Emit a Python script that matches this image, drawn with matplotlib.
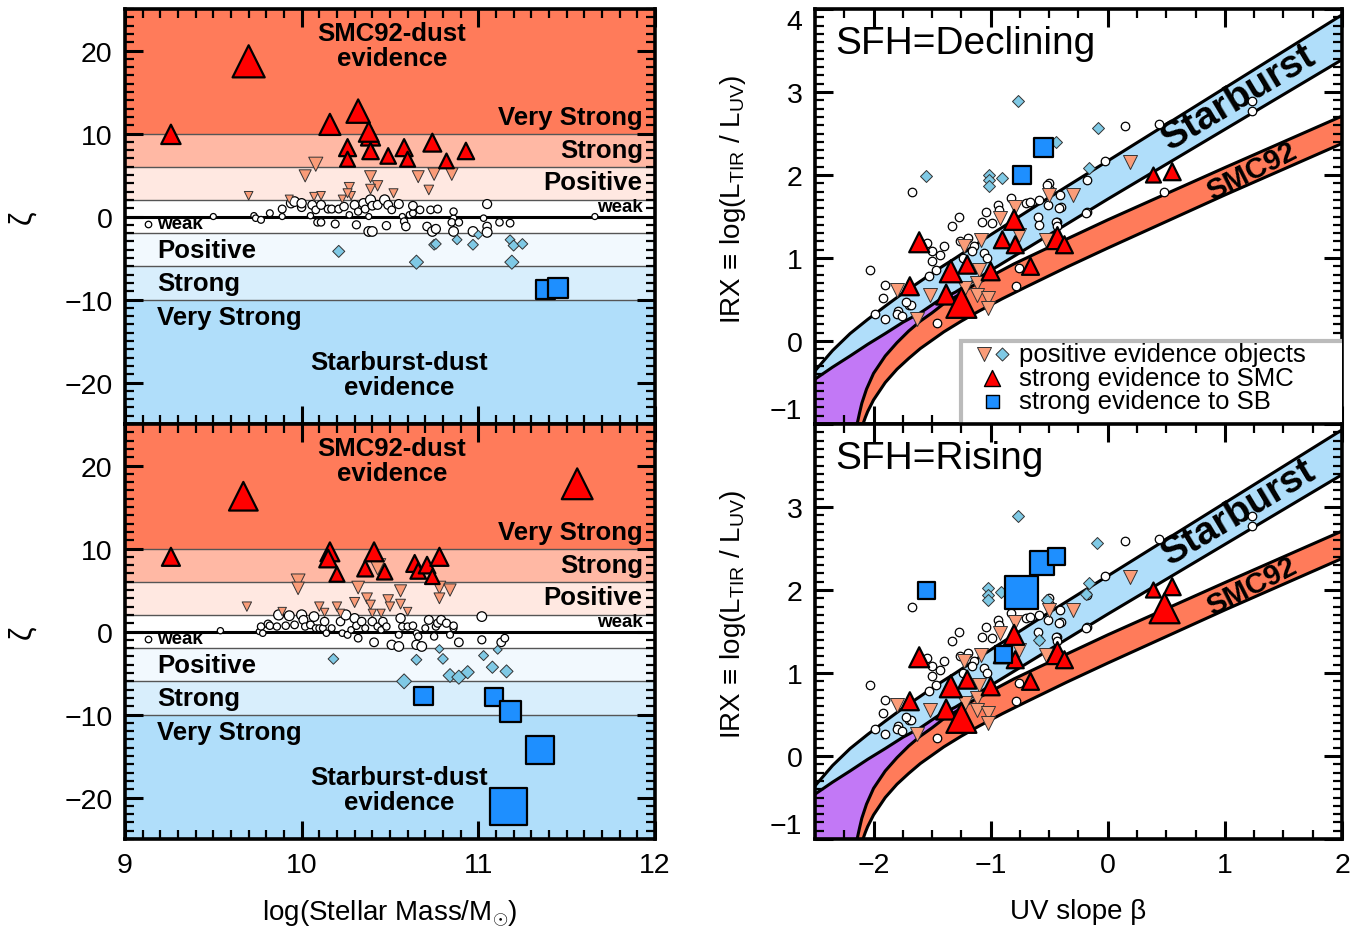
import numpy as np
import matplotlib.pyplot as plt
from matplotlib.patches import Polygon, Rectangle
from matplotlib.ticker import MultipleLocator

plt.rcParams['font.family'] = ['Liberation Sans', 'DejaVu Sans']
plt.rcParams['mathtext.fontset'] = 'custom'
plt.rcParams['mathtext.rm'] = 'Liberation Sans'
plt.rcParams['mathtext.it'] = 'Liberation Sans:italic'
plt.rcParams['mathtext.bf'] = 'Liberation Sans:bold'

# ---------------- zeta vs stellar mass : SFH declining ----------------
dec_weak_mass = [9.50, 9.73, 9.74, 9.77, 9.82, 9.89, 9.89, 9.94, 9.96, 10.00, 10.00, 10.05, 10.06,
                 10.08, 10.11, 10.09, 10.11, 10.15, 10.17, 10.19, 10.21, 10.24, 10.27, 10.30, 10.31,
                 10.32, 10.35, 10.36, 10.38, 10.39, 10.40, 10.43, 10.38, 10.40, 10.47, 10.48, 10.49,
                 10.51, 10.55, 10.57, 10.58, 10.59, 10.61, 10.63, 10.63, 10.67, 10.71, 10.73, 10.74,
                 10.76, 10.77, 10.86, 10.86, 10.85, 10.89, 10.86, 10.97, 11.03, 11.05, 11.05, 11.05,
                 11.12, 11.18, 11.66]
dec_weak_zeta = [0.0, 0.1, -0.2, -0.4, 0.4, 0.9, 0.0, 1.6, 1.8, 1.1, 1.6, 0.1, 1.4,
                 0.8, 1.4, -0.7, -0.7, 0.9, 0.9, -0.9, 0.9, 1.2, 0.2, 1.4, -1.0,
                 0.6, 1.6, 0.9, 0.0, 2.0, 1.3, 1.4, -1.8, -1.8, 2.0, -1.1, 1.4,
                 0.8, 1.5, 0.0, -0.6, -1.2, 0.2, 0.4, 1.3, 0.8, -1.2, 0.8, -1.8,
                 -1.5, 0.9, -0.2, 0.6, -0.7, -0.7, -1.8, -1.8, -0.2, -1.2, -1.9, 1.5,
                 -0.7, -0.8, 0.0]
dec_possmc_mass = [10.08, 10.02, 10.39, 10.43, 10.27, 10.28, 10.39, 10.66, 10.75, 10.85, 10.72,
                   9.70, 9.93, 10.07, 10.11, 10.23, 10.52, 10.26]
dec_possmc_zeta = [6.3, 4.9, 4.8, 3.7, 3.5, 2.5, 3.3, 4.8, 5.1, 5.1, 3.2,
                   2.5, 2.1, 2.4, 2.5, 2.1, 2.8, 2.8]
dec_possb_mass = [10.21, 10.65, 10.75, 10.76, 10.88, 10.97, 11.00, 11.18, 11.20, 11.25, 11.19]
dec_possb_zeta = [-4.2, -5.5, -3.4, -3.3, -2.8, -3.4, -2.2, -2.8, -3.5, -3.3, -5.5]
dec_smc_mass = [9.70, 9.26, 10.16, 10.32, 10.39, 10.38, 10.26, 10.26, 10.39, 10.49, 10.58,
                10.60, 10.74, 10.82, 10.93]
dec_smc_zeta = [18.7, 9.9, 11.1, 12.7, 9.7, 10.2, 8.3, 6.9, 7.9, 7.3, 8.3,
                6.9, 8.9, 6.7, 7.9]
dec_sb_mass = [11.38, 11.45]
dec_sb_zeta = [-8.8, -8.6]

# ---------------- zeta vs stellar mass : SFH rising ----------------
ris_weak_mass = [9.54, 9.76, 9.77, 9.78, 9.81, 9.82, 9.86, 9.87, 9.93, 9.91, 9.96, 10.00, 10.01,
                 10.02, 10.05, 10.07, 10.08, 10.10, 10.12, 10.13, 10.14, 10.17, 10.22, 10.23, 10.25,
                 10.26, 10.28, 10.30, 10.31, 10.32, 10.34, 10.36, 10.40, 10.41, 10.43, 10.45, 10.46,
                 10.48, 10.51, 10.55, 10.55, 10.56, 10.57, 10.60, 10.63, 10.65, 10.66, 10.65, 10.68,
                 10.70, 10.72, 10.75, 10.76, 10.77, 10.79, 10.82, 10.84, 10.86, 10.86, 10.89, 11.02,
                 11.02, 11.13, 11.15]
ris_weak_zeta = [0.1, 0.0, 0.6, -0.2, 0.9, 0.7, 0.6, 2.0, 1.9, 0.7, 0.8, 2.0, 1.4,
                 0.6, 0.8, 1.8, 0.4, 0.4, 0.4, 1.2, -0.2, 0.4, 1.2, -0.2, 2.0,
                 -0.4, 0.2, 1.6, 0.7, -0.8, 1.2, 0.4, 1.2, -1.3, 0.6, 0.2, 1.2,
                 0.6, -1.6, -1.8, -0.4, 1.6, 0.6, 0.6, 0.7, -0.2, -0.6, -1.6, -1.8,
                 0.4, 1.4, -0.6, 0.6, 1.0, 1.4, 1.0, -0.4, 0.4, 0.7, -1.3, 1.8,
                 -1.0, -1.3, -0.8]
ris_possmc_mass = [9.98, 9.98, 10.32, 10.56, 10.78, 10.84, 10.78, 10.37, 10.39, 10.49, 10.50,
                   10.56, 10.30, 9.69, 9.89, 10.10, 10.13, 10.20, 10.22, 10.40, 10.45, 10.60, 10.43]
ris_possmc_zeta = [6.1, 5.2, 5.3, 4.9, 5.3, 5.0, 4.0, 4.0, 3.2, 3.8, 3.0,
                   3.3, 3.5, 3.0, 2.4, 3.0, 2.3, 3.0, 2.2, 2.2, 2.2, 2.4, 7.8]
ris_possb_mass = [10.18, 10.65, 10.78, 10.80, 10.84, 10.89, 10.94, 10.58, 11.03, 11.08, 11.11, 11.16]
ris_possb_zeta = [-3.3, -3.4, -2.1, -3.3, -5.3, -5.5, -4.9, -6.0, -2.9, -4.3, -2.2, -4.8]
ris_smc_mass = [9.67, 11.56, 9.26, 10.16, 10.15, 10.20, 10.36, 10.41, 10.47, 10.64, 10.66,
                10.71, 10.74, 10.78]
ris_smc_zeta = [16.3, 17.8, 9.0, 9.6, 8.8, 6.9, 7.6, 9.6, 7.2, 8.2, 7.3,
                8.0, 6.6, 9.0]
ris_sb_mass = [10.69, 11.09, 11.18, 11.35, 11.17]
ris_sb_zeta = [-7.8, -7.9, -9.6, -14.3, -21.1]

# ---------------- IRX vs UV slope ----------------
irx_weak_beta = [0.15, 0.44, -0.02, -0.18, -0.18, 1.23, 1.23, 0.48, -0.41, -0.50, -0.49, -0.40,
                 -0.42, -0.43, -0.51, -1.67, -2.03, -1.90, -1.92, -1.99, -1.90, -1.79, -1.80,
                 -1.76, -1.70, -1.68, -1.72, -1.46, -1.54, -1.50, -1.43, -1.50, -1.47, -1.40,
                 -1.33, -1.27, -1.53, -1.26, -1.24, -1.19, -1.14, -1.16, -1.07, -1.04, -0.99,
                 -1.06, -1.03, -0.94, -0.93, -0.83, -0.76, -0.78, -0.70, -0.66, -0.59, -0.60,
                 -0.59, -0.52, -0.44, -0.43, -0.19]
irx_weak = [2.59, 2.61, 2.17, 1.94, 1.55, 2.89, 2.77, 1.79, 1.76, 1.90, 1.82, 1.62,
            1.60, 1.43, 1.64, 1.80, 0.86, 0.67, 0.52, 0.33, 0.26, 0.36, 0.32,
            0.30, 0.43, 0.44, 0.47, 0.22, 1.18, 1.08, 1.04, 0.96, 0.86, 1.14,
            1.38, 1.49, 0.78, 1.20, 1.00, 1.24, 1.14, 1.08, 1.44, 1.56, 1.42,
            1.06, 1.00, 1.64, 1.58, 1.72, 0.88, 0.66, 1.66, 1.68, 1.70, 1.50,
            1.40, 1.88, 1.43, 1.38, 1.54]
irx_possmc_beta = [-1.80, -1.52, -1.63, -1.23, -1.08, -1.10, -1.22, -1.12, -1.12, -1.02, -1.02,
                   -0.92, -0.79, -0.76, -0.50, -0.30, -0.53, 0.19]
irx_possmc = [0.62, 0.56, 0.26, 1.14, 1.22, 0.86, 0.64, 0.70, 0.56, 0.52, 0.40,
              1.48, 1.62, 1.28, 1.76, 1.76, 1.22, 2.16]
irx_smc_beta = [-1.61, -1.69, -1.34, -1.20, -1.00, -1.38, -1.25, -0.80, -0.90, -0.79, -0.66,
                -0.43, -0.37, 0.39, 0.55]
irx_smc = [1.19, 0.66, 0.84, 0.92, 0.84, 0.56, 0.46, 1.46, 1.22, 1.16, 0.90,
           1.24, 1.16, 2.00, 2.04]
irx_smc_px = [20, 18, 22, 18, 18, 20, 30, 20, 17, 17, 17, 22, 17, 15, 17]

dec_irx_possb_beta = [-0.77, -0.44, -0.08, -1.55, -1.01, -1.01, -1.01, -0.90, -0.16]
dec_irx_possb = [2.89, 2.40, 2.57, 1.99, 2.00, 1.94, 1.87, 1.97, 2.08]
dec_irx_sb_beta = [-0.55, -0.73]
dec_irx_sb = [2.33, 2.00]
dec_irx_sb_px = [19, 18]

ris_irx_possb_beta = [-0.77, -0.09, -1.02, -1.02, -1.02, -0.91, -0.16, -0.19, -0.52, -0.59]
ris_irx_possb = [2.89, 2.57, 2.02, 1.94, 1.88, 1.98, 2.08, 1.95, 1.88, 1.40]
ris_irx_sb_beta = [-1.55, -0.74, -0.56, -0.44, -0.89]
ris_irx_sb = [1.99, 1.97, 2.33, 2.40, 1.22]
ris_irx_sb_px = [17, 33, 24, 17, 17]
ris_irx_smc_extra_beta = [0.485]
ris_irx_smc_extra = [1.78]
ris_irx_smc_extra_px = [30]

# dust-law curves (upper/lower edges of the Starburst and SMC92 bands)
sb_beta = [-2.5, -2.35, -2.2, -2.05, -1.9, -1.75, -1.6, -1.45, -1.3, -1.0, -0.5, 0.0, 1.0, 2.0]
sb_upper = [-0.36, -0.115, 0.09, 0.26, 0.42, 0.576, 0.72, 0.865, 1.00, 1.28, 1.73, 2.17, 3.05, 3.93]
sb_lower = [-0.46, -0.315, -0.18, -0.04, 0.09, 0.225, 0.34, 0.484, 0.59, 0.85, 1.28, 1.71, 2.55, 3.39]
smc_up_beta = [-2.14, -2.12, -2.10, -2.06, -2.00, -1.90, -1.80, -1.70, -1.60, -1.50, -1.40,
               -1.28, -1.16, -1.00, -0.80, -0.50, 0.0, 1.0, 2.0]
smc_up = [-1.00, -0.87, -0.75, -0.58, -0.39, -0.18, -0.02, 0.12, 0.24, 0.34, 0.45,
          0.55, 0.66, 0.78, 0.93, 1.13, 1.46, 2.09, 2.71]
smc_lo_beta = [-2.09, -2.07, -2.05, -2.00, -1.90, -1.80, -1.70, -1.60, -1.50, -1.40, -1.25,
               -1.10, -0.90, -0.70, -0.35, 0.0, 1.0, 2.0]
smc_lo = [-1.00, -0.92, -0.85, -0.71, -0.50, -0.34, -0.21, -0.09, 0.01, 0.11, 0.24,
          0.36, 0.51, 0.65, 0.89, 1.12, 1.76, 2.38]

# colours
zeta_edges = [-25, -10, -6, -2, 2, 6, 10, 25]
zeta_colors = ['#B0DEFA', '#D8EEFC', '#F2F9FE', 'white', '#FFE8E1', '#FFB8A4', '#FF7B5A']
C_SB = '#B0DEFA'
C_SMC = '#FF7B5A'
C_MIX = '#C278F6'
C_RED = '#FF0000'
C_ORANGE = '#FA9C78'
C_DIAM = '#7FC9E5'
C_SQ = '#1E8FFF'


def area(px):
    # marker width in pixels -> scatter area in pt^2 (dpi=100)
    return (px * 0.72) ** 2


def zeta_px(z):
    return 5 + 1.45 * abs(z)


def circle_px(z):
    return 6 + 2.0 * abs(z)


def style_axes(ax, xmin_step, ymin_step):
    ax.xaxis.set_minor_locator(MultipleLocator(xmin_step))
    ax.yaxis.set_minor_locator(MultipleLocator(ymin_step))
    ax.tick_params(which='both', direction='in', top=True, right=True)
    ax.tick_params(which='major', length=13, width=2.2, labelsize=20.5, pad=9)
    ax.tick_params(which='minor', length=6.5, width=1.6)
    for sp in ax.spines.values():
        sp.set_linewidth(2.6)


def zeta_panel(ax, wm, wz, pm, pz, bm, bz, sm, sz, qm, qz):
    for lo, hi, c in zip(zeta_edges[:-1], zeta_edges[1:], zeta_colors):
        ax.axhspan(lo, hi, color=c, lw=0, zorder=0)
    for z in [-10, -6, -2, 2, 6, 10]:
        ax.axhline(z, color='#555555', lw=1.0, zorder=1)
    ax.axhline(0, color='black', lw=2.2, zorder=1)

    bold = dict(fontsize=18.5, fontweight='bold', zorder=2)
    ax.text(10.51, 22.1, 'SMC92-dust', ha='center', va='center', **bold)
    ax.text(10.51, 19.1, 'evidence', ha='center', va='center', **bold)
    ax.text(10.55, -17.5, 'Starburst-dust', ha='center', va='center', **bold)
    ax.text(10.55, -20.5, 'evidence', ha='center', va='center', **bold)
    tr = ax.get_yaxis_transform()
    for y, s in [(12.05, 'Very Strong'), (8.05, 'Strong'), (4.1, 'Positive')]:
        ax.text(0.977, y, s, transform=tr, ha='right', va='center', **bold)
    for y, s in [(-12.05, 'Very Strong'), (-8.05, 'Strong'), (-4.0, 'Positive')]:
        ax.text(0.060, y, s, transform=tr, ha='left', va='center', **bold)
    ax.text(0.977, 1.2, 'weak', transform=tr, ha='right', va='center',
            fontsize=13.5, fontweight='bold', zorder=2)
    ax.text(0.060, -0.85, 'weak', transform=tr, ha='left', va='center',
            fontsize=13.5, fontweight='bold', zorder=2)
    ax.scatter([9.13], [-0.85], s=area(6.5), marker='o', facecolor='white',
               edgecolor='black', lw=0.9, zorder=3)

    ax.scatter(wm, wz, s=[area(circle_px(z)) for z in wz], marker='o',
               facecolor='white', edgecolor='black', lw=0.9, zorder=3)
    ax.scatter(bm, bz, s=[area(zeta_px(z) / 1.3) for z in bz], marker='D',
               facecolor=C_DIAM, edgecolor='#333333', lw=0.7, zorder=4)
    ax.scatter(pm, pz, s=[area(zeta_px(z)) for z in pz], marker='v',
               facecolor=C_ORANGE, edgecolor='#333333', lw=0.7, zorder=4)
    ax.scatter(sm, sz, s=[area(zeta_px(z)) for z in sz], marker='^',
               facecolor=C_RED, edgecolor='black', lw=1.6, zorder=5)
    ax.scatter(qm, qz, s=[area(zeta_px(z) + 2) for z in qz], marker='s',
               facecolor=C_SQ, edgecolor='black', lw=1.6, zorder=5)

    ax.set_xlim(9, 12)
    ax.set_ylim(-25, 25)
    ax.set_xticks([9, 10, 11, 12])
    ax.set_yticks([-20, -10, 0, 10, 20])
    style_axes(ax, 0.1, 1)
    ax.set_ylabel('ζ', fontsize=22)
    ax.yaxis.set_label_coords(-0.165, 0.5)


def irx_panel(ax, title, bb, bi, qb, qi, qpx, xb, xi, xpx):
    sb_poly = list(zip(sb_beta, sb_upper)) + list(zip(sb_beta, sb_lower))[::-1]
    smc_poly = list(zip(smc_up_beta, smc_up)) + list(zip(smc_lo_beta, smc_lo))[::-1]
    # region left of SMC92 and below the Starburst band, up to where they meet
    mix_poly = ([(-2.5, -1.0)] + list(zip(sb_beta[:9], sb_lower[:9]))
                + list(zip(smc_up_beta[:13], smc_up[:13]))[::-1])
    ax.add_patch(Polygon(mix_poly, closed=True, facecolor=C_MIX, lw=0, zorder=1))
    ax.add_patch(Polygon(sb_poly, closed=True, facecolor=C_SB, lw=0, zorder=1))
    ax.add_patch(Polygon(smc_poly, closed=True, facecolor=C_SMC, lw=0, zorder=1))
    for x, y in [(sb_beta, sb_upper), (sb_beta, sb_lower),
                 (smc_up_beta, smc_up), (smc_lo_beta, smc_lo)]:
        ax.plot(x, y, color='black', lw=2.2, zorder=2, solid_joinstyle='round')

    ax.text(1.12, 2.94, 'Starburst', rotation=31, ha='center', va='center',
            fontsize=28, fontweight='bold', zorder=2, rotation_mode='anchor')
    ax.text(1.23, 2.05, 'SMC92', rotation=27, ha='center', va='center',
            fontsize=21, fontweight='bold', zorder=2, rotation_mode='anchor')
    ax.text(0.038, 0.918, title, transform=ax.transAxes, ha='left', va='center',
            fontsize=28)

    ax.scatter(irx_weak_beta, irx_weak, s=area(8.5), marker='o', facecolor='white',
               edgecolor='black', lw=0.9, zorder=3)
    ax.scatter(bb, bi, s=area(11 / 1.3), marker='D', facecolor=C_DIAM,
               edgecolor='#333333', lw=0.7, zorder=4)
    ax.scatter(irx_possmc_beta, irx_possmc, s=area(14), marker='v', facecolor=C_ORANGE,
               edgecolor='#333333', lw=0.7, zorder=4)
    ax.scatter(irx_smc_beta + xb, irx_smc + xi, s=[area(p) for p in irx_smc_px + xpx],
               marker='^', facecolor=C_RED, edgecolor='black', lw=1.6, zorder=5)
    ax.scatter(qb, qi, s=[area(p) for p in qpx], marker='s', facecolor=C_SQ,
               edgecolor='black', lw=1.6, zorder=5)

    ax.set_xlim(-2.5, 2)
    ax.set_ylim(-1, 4)
    ax.set_xticks([-2, -1, 0, 1, 2])
    style_axes(ax, 0.25, 0.1)
    ax.set_yticks([-1, 0, 1, 2, 3, 4])
    ax.set_ylabel(r'IRX$\,\equiv\,$log(L$_{\rm TIR}$ / L$_{\rm UV}$)', fontsize=20)
    ax.yaxis.set_label_coords(-0.128, 0.545)


fig = plt.figure(figsize=(13.69, 9.37), dpi=100)
ax_lt = fig.add_axes([0.0913, 0.5464, 0.3871, 0.4429])
ax_lb = fig.add_axes([0.0913, 0.1035, 0.3871, 0.4429])
ax_rt = fig.add_axes([0.5953, 0.5464, 0.3850, 0.4429])
ax_rb = fig.add_axes([0.5953, 0.1035, 0.3850, 0.4429])

zeta_panel(ax_lt, dec_weak_mass, dec_weak_zeta, dec_possmc_mass, dec_possmc_zeta,
           dec_possb_mass, dec_possb_zeta, dec_smc_mass, dec_smc_zeta, dec_sb_mass, dec_sb_zeta)
zeta_panel(ax_lb, ris_weak_mass, ris_weak_zeta, ris_possmc_mass, ris_possmc_zeta,
           ris_possb_mass, ris_possb_zeta, ris_smc_mass, ris_smc_zeta, ris_sb_mass, ris_sb_zeta)
ax_lt.tick_params(labelbottom=False)
ax_lb.set_xlabel(r'log(Stellar Mass/M$_{\odot}$)', fontsize=20)
ax_lb.xaxis.set_label_coords(0.5, -0.142)

irx_panel(ax_rt, 'SFH=Declining', dec_irx_possb_beta, dec_irx_possb,
          dec_irx_sb_beta, dec_irx_sb, dec_irx_sb_px, [], [], [])
irx_panel(ax_rb, 'SFH=Rising', ris_irx_possb_beta, ris_irx_possb,
          ris_irx_sb_beta, ris_irx_sb, ris_irx_sb_px,
          ris_irx_smc_extra_beta, ris_irx_smc_extra, ris_irx_smc_extra_px)
ax_rt.tick_params(labelbottom=False)
ax_rb.set_xlabel('UV slope β', fontsize=20)
ax_rb.xaxis.set_label_coords(0.5, -0.142)

labs = ax_rt.set_yticklabels(['\u22121', '0', '1', '2', '3', '4'])
labs[0].set_va('bottom')
labs[-1].set_va('top')
labs = ax_rb.set_yticklabels(['\u22121', '0', '1', '2', '3', ''])
labs[0].set_va('bottom')

# legend box of the declining panel
ax_rt.add_patch(Rectangle((-1.255, -1.1), 3.4, 1.1, facecolor='white',
                          edgecolor='#BBBBBB', lw=3, zorder=6))
ax_rt.scatter([-1.06], [-0.156], s=area(14), marker='v', facecolor=C_ORANGE,
              edgecolor='#333333', lw=0.7, zorder=7)
ax_rt.scatter([-0.905], [-0.156], s=area(12 / 1.3), marker='D', facecolor=C_DIAM,
              edgecolor='#333333', lw=0.7, zorder=7)
ax_rt.scatter([-0.99], [-0.444], s=area(16), marker='^', facecolor=C_RED,
              edgecolor='black', lw=1.0, zorder=7)
ax_rt.scatter([-0.99], [-0.72], s=area(13), marker='s', facecolor=C_SQ,
              edgecolor='black', lw=1.0, zorder=7)
for y, s in [(-0.156, 'positive evidence objects'), (-0.444, 'strong evidence to SMC'),
             (-0.72, 'strong evidence to SB')]:
    ax_rt.text(-0.76, y, s, ha='left', va='center', fontsize=18.5, zorder=7)

fig.savefig('out.png', dpi=100)
